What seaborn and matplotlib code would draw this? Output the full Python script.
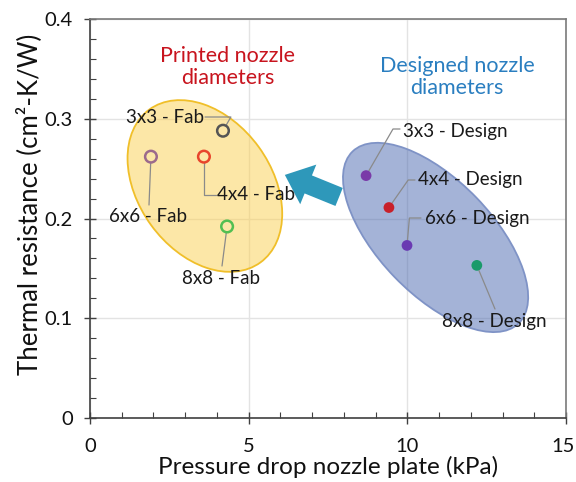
import matplotlib
matplotlib.use("Agg")
import matplotlib.pyplot as plt
import matplotlib.transforms as mtransforms
from matplotlib.patches import Ellipse
from matplotlib.ticker import MultipleLocator
import seaborn as sns
import pandas as pd

# ---------------- data ----------------
fab_labels = ["3x3 - Fab", "4x4 - Fab", "6x6 - Fab", "8x8 - Fab"]
fab_dp = [4.19, 3.59, 1.92, 4.32]
fab_rth = [0.288, 0.262, 0.262, 0.192]
fab_colors = ["#555555", "#e8452c", "#9c6a8c", "#52bf52"]

des_labels = ["3x3 - Design", "4x4 - Design", "6x6 - Design", "8x8 - Design"]
des_dp = [8.70, 9.42, 9.99, 12.19]
des_rth = [0.243, 0.211, 0.173, 0.153]
des_colors = ["#7a3aa8", "#c8202a", "#6a3ab2", "#1a9a6a"]

x_ticks = [0, 5, 10, 15]
y_ticks = [0, 0.1, 0.2, 0.3, 0.4]
y_ticklabels = ["0", "0.1", "0.2", "0.3", "0.4"]

# ---------------- figure ----------------
sns.set_style("white")
plt.rcParams["font.family"] = ["Lato", "DejaVu Sans"]

W, H = 576, 482
fig = plt.figure(figsize=(W / 100, H / 100), dpi=100)
ax = fig.add_axes([90 / W, 1 - 418 / H, (566 - 90) / W, (418 - 19) / H])
ax.set_xlim(0, 15)
ax.set_ylim(0, 0.4)

ax.grid(True, which="major", color="#e3e3e3", lw=1)
ax.set_axisbelow(True)

ax.set_xticks(x_ticks)
ax.set_yticks(y_ticks)
ax.set_yticklabels(y_ticklabels)
ax.xaxis.set_minor_locator(MultipleLocator(1))
ax.yaxis.set_minor_locator(MultipleLocator(0.02))
ax.tick_params(which="both", bottom=True, left=True, top=False, right=False)
ax.tick_params(which="major", direction="inout", length=9, width=1,
               color="#404040", labelsize=14.5, labelcolor="#111111")
ax.tick_params(which="minor", direction="in", length=4, width=0.8, color="#404040")
ax.tick_params(axis="x", pad=10)
ax.tick_params(axis="y", pad=8)
# keep the last x tick label inside the canvas
last = ax.get_xticklabels()[-1]
last.set_transform(last.get_transform() + mtransforms.ScaledTranslation(-3 / 100, 0, fig.dpi_scale_trans))

for s in ["left", "bottom"]:
    ax.spines[s].set_color("#404040")
    ax.spines[s].set_linewidth(1.2)
for s in ["top", "right"]:
    ax.spines[s].set_color("#7a7a7a")
    ax.spines[s].set_linewidth(1.2)

# ---------------- ellipses ----------------
def add_ellipse(cx, cy, w_px, h_px, angle, fc, ec):
    tr = fig.dpi_scale_trans + mtransforms.ScaledTranslation(cx, cy, ax.transData)
    e = Ellipse((0, 0), w_px / 100, h_px / 100, angle=angle, transform=tr,
                facecolor=fc, edgecolor=ec, lw=1.3, zorder=1)
    ax.add_patch(e)

add_ellipse(3.62, 0.2326, 189, 133, -54, (0.984, 0.816, 0.314, 0.5), "#f0bf2a")
add_ellipse(10.89, 0.181, 239, 114, -46, (0.29, 0.41, 0.69, 0.5), "#7f93c6")

# ---------------- arrow ----------------
ax.annotate("", xy=(6.14, 0.2437), xytext=(7.85, 0.2216),
            arrowprops=dict(arrowstyle="simple,head_length=1.3,head_width=2.2,tail_width=1.0",
                            mutation_scale=14, fc="#2e98ba", ec="none",
                            shrinkA=0, shrinkB=0), zorder=2)

# ---------------- points ----------------
fab_df = pd.DataFrame({"dp": fab_dp, "rth": fab_rth, "label": fab_labels})
des_df = pd.DataFrame({"dp": des_dp, "rth": des_rth, "label": des_labels})

sns.scatterplot(data=des_df, x="dp", y="rth", hue="label", palette=des_colors,
                s=60, edgecolor="none", legend=False, ax=ax, zorder=4)
n_before = len(ax.collections)
sns.scatterplot(data=fab_df, x="dp", y="rth", hue="label", palette=fab_colors,
                s=70, linewidth=1.8, legend=False, ax=ax, zorder=4)
coll = ax.collections[n_before]
fc = coll.get_facecolors()
coll.set_edgecolors(fc)
coll.set_facecolors("none")
coll.set_linewidth(1.8)

ax.set_xlabel("Pressure drop nozzle plate (kPa)", fontsize=17.5, color="#111111")
ax.set_ylabel("Thermal resistance (cm²-K/W)", fontsize=18.5, color="#111111")
ax.xaxis.set_label_coords(0.5, (418 - 456) / 399)
ax.yaxis.set_label_coords((42 - 90) / 476, (418 - 204) / 399)

# ---------------- labels with leader lines ----------------
def px2data(px, py):
    return ((px - 90) / ((566 - 90) / 15), (418 - py) * 0.4 / (418 - 19))

lab_pos = {
    "3x3 - Fab": ((165, 117), "angle,angleA=0,angleB=60,rad=0"),
    "4x4 - Fab": ((256, 195), "angle,angleA=0,angleB=90,rad=0"),
    "6x6 - Fab": ((148, 217), "arc3,rad=0"),
    "8x8 - Fab": ((221, 278), "arc3,rad=0"),
    "3x3 - Design": ((455, 131), "angle,angleA=0,angleB=60,rad=0"),
    "4x4 - Design": ((470, 180), "angle,angleA=0,angleB=55,rad=0"),
    "6x6 - Design": ((477, 218), "angle,angleA=0,angleB=85,rad=0"),
    "8x8 - Design": ((494, 321), "arc3,rad=0"),
}
rel = {
    "3x3 - Fab": (205, 117), "4x4 - Fab": (216, 195), "6x6 - Fab": (149, 205),
    "8x8 - Fab": (222, 266), "3x3 - Design": (400, 129), "4x4 - Design": (415, 180),
    "6x6 - Design": (421, 218), "8x8 - Design": (495, 309),
}

all_labels = fab_labels + des_labels
all_x = fab_dp + des_dp
all_y = fab_rth + des_rth
for lab, x, y in zip(all_labels, all_x, all_y):
    (tx, ty), cs = lab_pos[lab]
    ax.text(*px2data(tx, ty), lab, ha="center", va="center", fontsize=13.5,
            color="#1a1a1a", zorder=5)
    ax.annotate("", xy=(x, y), xytext=px2data(*rel[lab]),
                arrowprops=dict(arrowstyle="-", color="#8a8a8a", lw=0.9,
                                shrinkA=0, shrinkB=4, connectionstyle=cs), zorder=3)

# ---------------- group titles ----------------
ax.text(*px2data(228, 67), "Printed nozzle\ndiameters", ha="center", va="center",
        fontsize=15.5, color="#c8141e", linespacing=1.15)
ax.text(*px2data(457, 77), "Designed nozzle\ndiameters", ha="center", va="center",
        fontsize=15.5, color="#2a7ec0", linespacing=1.15)

fig.savefig("out.png", dpi=100)
